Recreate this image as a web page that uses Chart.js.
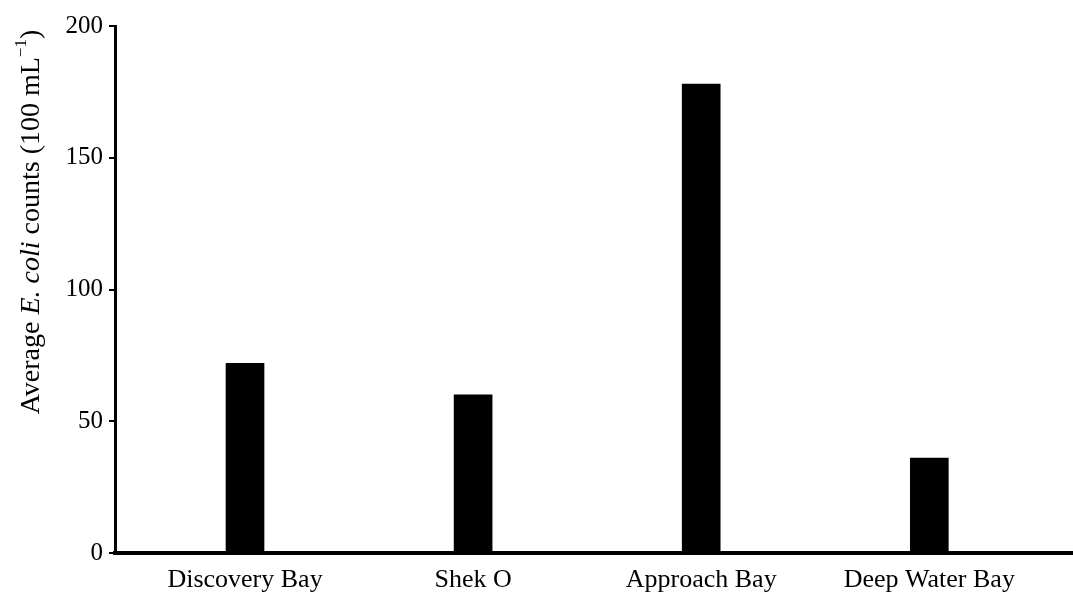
<!DOCTYPE html>
<html lang="en">
<head>
  <meta charset="UTF-8">
  <title>Average E. coli counts</title>
  <script src="https://cdn.jsdelivr.net/npm/chart.js"></script>
  <style>
    html, body { margin: 0; padding: 0; background: #fff; }
    #wrap { width: 1073px; height: 593px; }
  </style>
</head>
<body>
<div id="wrap">
  <canvas id="ecoliChart" width="1073" height="593"></canvas>
</div>

<script>
  // Data
  const sites = ["Discovery Bay", "Shek O", "Approach Bay", "Deep Water Bay"];
  const ecoliCounts = [72, 60, 178, 36];
  const yTicks = [0, 50, 100, 150, 200];

  const serif = "'Liberation Serif', 'Times New Roman', serif";

  // Rotated y-axis title with italic species name and superscript
  const yTitlePlugin = {
    id: "yTitle",
    afterDraw(chart) {
      const ctx = chart.ctx;
      const size = 28;
      const parts = [
        { t: "Average ", f: `${size}px ${serif}`, dy: 0 },
        { t: "E. coli", f: `italic ${size}px ${serif}`, dy: 0 },
        { t: " counts (100 mL", f: `${size}px ${serif}`, dy: 0 },
        { t: "\u22121", f: `${Math.round(size * 0.6)}px ${serif}`, dy: -size * 0.36 },
        { t: ")", f: `${size}px ${serif}`, dy: 0 }
      ];
      ctx.save();
      let total = 0;
      parts.forEach(p => { ctx.font = p.f; p.w = ctx.measureText(p.t).width; total += p.w; });
      ctx.translate(32, 222);
      ctx.rotate(-Math.PI / 2);
      ctx.fillStyle = "#000";
      ctx.textBaseline = "middle";
      let x = -total / 2;
      parts.forEach(p => {
        ctx.font = p.f;
        ctx.fillText(p.t, x, p.dy);
        x += p.w;
      });
      ctx.restore();
    }
  };

  const ctx = document.getElementById("ecoliChart").getContext("2d");
  new Chart(ctx, {
    type: "bar",
    data: {
      datasets: [{
        data: sites.map((s, i) => ({ x: i, y: ecoliCounts[i] })),
        backgroundColor: "#000",
        borderWidth: 0,
        barThickness: 38
      }]
    },
    options: {
      responsive: false,
      animation: false,
      layout: { padding: { top: 26, right: 0, left: 0, bottom: 0 } },
      plugins: {
        legend: { display: false },
        tooltip: { enabled: false }
      },
      scales: {
        x: {
          type: "linear",
          offset: false,
          min: -0.57,
          max: 3.63,
          grid: { display: false },
          border: { display: true, color: "#000", width: 4 },
          afterBuildTicks: scale => { scale.ticks = sites.map((s, i) => ({ value: i })); },
          afterFit: scale => { scale.height = 40; },
          ticks: {
            autoSkip: false,
            maxRotation: 0,
            padding: 4,
            color: "#000",
            font: { family: serif, size: 26 },
            callback: v => sites[v]
          }
        },
        y: {
          min: 0,
          max: 200,
          grid: { drawOnChartArea: false, drawTicks: true, tickLength: 6, color: "#000", lineWidth: 2 },
          border: { display: true, color: "#000", width: 3 },
          afterBuildTicks: scale => { scale.ticks = yTicks.map(v => ({ value: v })); },
          afterFit: scale => { scale.width = 115; },
          ticks: {
            padding: 6,
            color: "#000",
            font: { family: serif, size: 25 }
          }
        }
      }
    },
    plugins: [yTitlePlugin]
  });
</script>
</body>
</html>
